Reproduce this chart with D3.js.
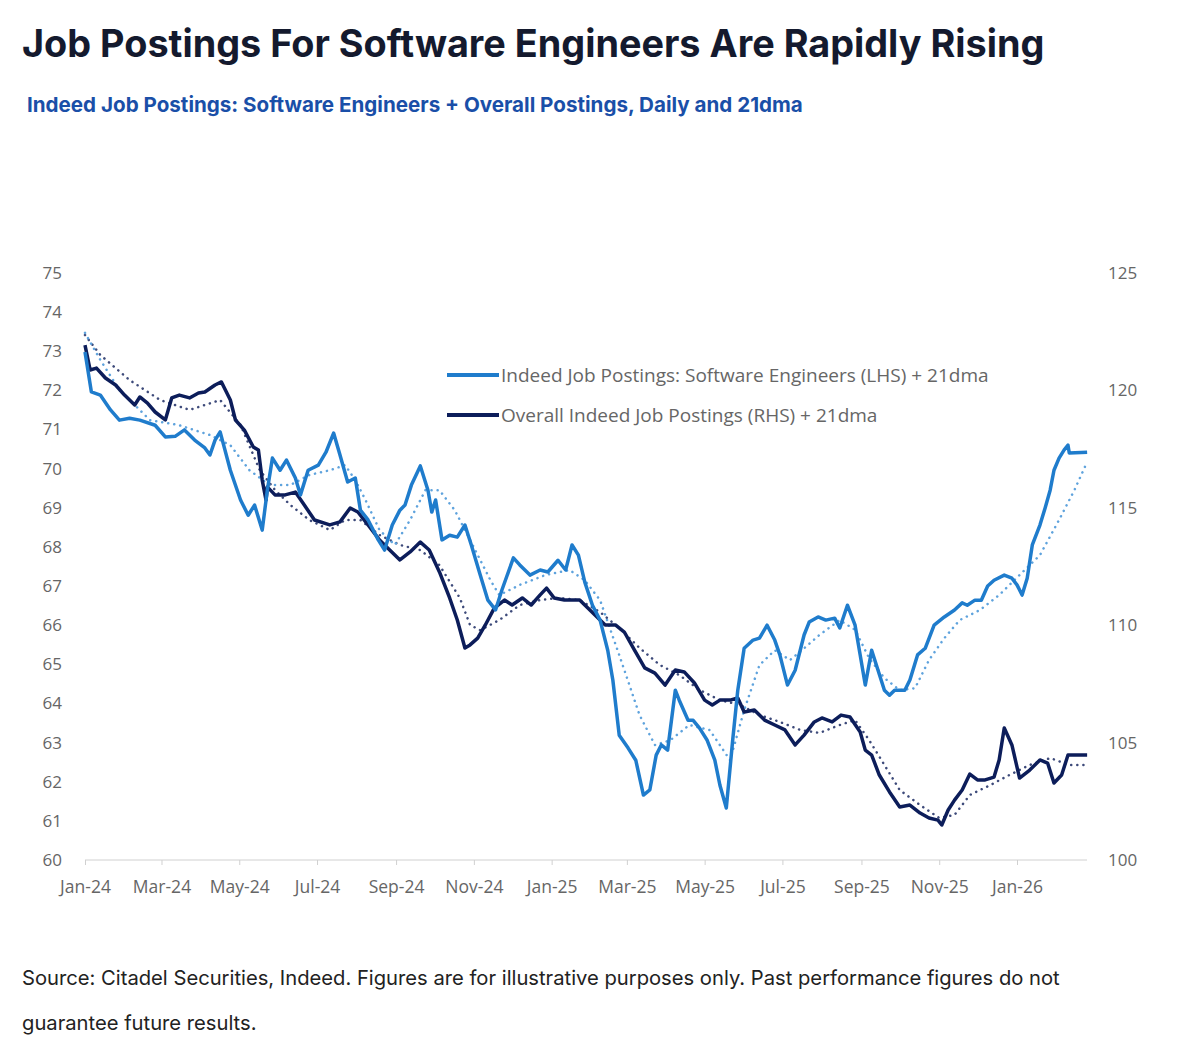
<!DOCTYPE html>
<html>
<head>
<meta charset="utf-8">
<script src="https://cdn.jsdelivr.net/npm/d3@7"></script>
<style>
  body { margin:0; background:#fff; font-family:Inter, "Noto Sans", sans-serif; }
</style>
</head>
<body>
<div id="plot"></div>
<script>
// days since 2024-01-01, value
var swDaily = [[0,72.98],[5,71.96],[12,71.88],[20,71.5],[27,71.24],[35,71.29],[43,71.24],[55,71.11],[63,70.81],[71,70.83],[78,70.99],[86,70.73],[94,70.53],[98,70.35],[102,70.73],[106,70.94],[114,69.96],[122,69.2],[128,68.81],[133,69.07],[139,68.43],[143,69.45],[147,70.27],[153,69.96],[158,70.22],[165,69.76],[169,69.33],[175,69.96],[183,70.09],[189,70.42],[195,70.91],[200,70.35],[206,69.66],[212,69.76],[216,68.94],[222,68.69],[230,68.18],[235,67.92],[241,68.56],[247,68.94],[251,69.07],[256,69.58],[263,70.07],[269,69.45],[272,68.89],[275,69.2],[280,68.18],[286,68.3],[292,68.25],[298,68.56],[303,68.05],[310,67.28],[316,66.64],[322,66.39],[327,66.9],[336,67.72],[341,67.54],[349,67.28],[357,67.41],[363,67.36],[371,67.66],[377,67.41],[382,68.05],[387,67.79],[392,67.1],[398,66.51],[404,66.13],[410,65.36],[414,64.6],[419,63.19],[426,62.86],[432,62.55],[438,61.66],[443,61.79],[448,62.68],[452,62.94],[457,62.81],[463,64.34],[466,64.09],[473,63.57],[477,63.57],[482,63.37],[488,63.06],[494,62.55],[498,61.91],[503,61.33],[508,63.06],[512,64.34],[517,65.41],[524,65.62],[529,65.67],[535,66.0],[541,65.62],[545,65.24],[551,64.47],[557,64.85],[564,65.75],[568,66.08],[575,66.21],[581,66.13],[588,66.18],[592,65.93],[598,66.51],[604,66.0],[608,65.24],[612,64.47],[617,65.36],[622,64.85],[627,64.34],[631,64.21],[635,64.34],[643,64.34],[647,64.6],[653,65.24],[659,65.41],[666,66.0],[674,66.21],[682,66.39],[688,66.57],[692,66.51],[698,66.64],[703,66.64],[708,67.0],[713,67.15],[721,67.28],[727,67.2],[731,67.03],[735,66.77],[739,67.2],[743,68.05],[749,68.56],[753,68.99],[757,69.45],[760,69.96],[764,70.27],[768,70.48],[771,70.6],[772,70.4],[786,70.42]];
var swMA = [[0,73.47],[12,72.78],[27,72.01],[51,71.24],[74,71.11],[98,70.86],[114,70.6],[129,69.96],[145,69.58],[161,69.58],[176,69.84],[192,69.96],[204,70.09],[212,69.71],[220,69.2],[231,68.43],[243,68.05],[255,68.69],[267,69.45],[278,69.45],[290,68.94],[302,68.18],[318,67.15],[325,66.77],[341,67.03],[361,67.28],[380,67.41],[392,67.15],[404,66.64],[419,65.24],[435,63.7],[447,62.94],[459,63.06],[474,63.45],[490,63.32],[506,62.55],[517,63.83],[529,64.98],[541,65.36],[553,65.11],[564,65.41],[576,65.75],[592,66.13],[604,65.88],[615,65.16],[627,64.65],[639,64.34],[651,64.39],[662,65.11],[674,65.67],[686,66.13],[702,66.39],[717,66.77],[733,67.28],[749,67.79],[764,68.69],[776,69.45],[786,70.17]];
var allDaily = [[0,121.93],[4,120.87],[9,120.95],[16,120.53],[24,120.23],[31,119.8],[39,119.38],[43,119.72],[49,119.46],[55,119.08],[63,118.74],[68,119.68],[74,119.8],[82,119.68],[89,119.89],[94,119.93],[102,120.23],[107,120.36],[114,119.59],[118,118.74],[125,118.31],[132,117.59],[136,117.46],[139,116.18],[142,115.33],[143,115.89],[149,115.55],[157,115.55],[165,115.67],[172,115.12],[180,114.48],[192,114.27],[200,114.4],[208,114.99],[214,114.82],[222,114.27],[231,113.63],[239,113.2],[247,112.78],[255,113.12],[263,113.54],[270,113.2],[278,112.27],[286,111.16],[292,110.22],[298,109.03],[302,109.16],[308,109.45],[314,110.01],[321,110.73],[329,111.07],[335,110.86],[343,111.16],[350,110.86],[357,111.29],[362,111.58],[368,111.16],[376,111.07],[388,111.07],[400,110.43],[408,110.01],[416,110.01],[423,109.71],[431,108.94],[439,108.18],[447,107.96],[455,107.45],[463,108.09],[470,108.01],[478,107.54],[486,106.81],[492,106.6],[498,106.81],[506,106.81],[512,106.9],[517,106.3],[525,106.39],[533,105.96],[541,105.75],[549,105.54],[557,104.9],[564,105.32],[572,105.88],[578,106.05],[586,105.88],[593,106.17],[600,106.09],[608,105.45],[612,104.68],[617,104.47],[623,103.62],[631,102.9],[639,102.26],[647,102.34],[655,102.0],[662,101.79],[669,101.7],[672,101.49],[677,102.13],[682,102.55],[688,102.98],[694,103.66],[700,103.41],[706,103.41],[713,103.53],[717,104.26],[721,105.62],[727,104.9],[733,103.49],[741,103.83],[749,104.26],[755,104.13],[760,103.28],[766,103.62],[771,104.47],[786,104.47]];
var allMA = [[0,122.36],[12,121.51],[35,120.44],[59,119.59],[82,119.17],[106,119.59],[122,118.53],[137,116.61],[149,115.76],[161,115.12],[176,114.48],[192,114.05],[204,114.48],[216,114.48],[231,113.84],[247,113.42],[263,113.2],[278,112.56],[294,111.16],[302,110.01],[310,109.79],[325,110.22],[341,110.86],[357,111.07],[372,111.16],[388,111.07],[404,110.56],[419,109.88],[435,109.03],[451,108.3],[466,107.88],[482,107.24],[498,106.81],[514,106.6],[529,106.18],[545,105.88],[561,105.54],[576,105.41],[592,105.75],[604,105.96],[615,105.11],[627,104.05],[639,102.98],[655,102.34],[670,101.79],[682,101.92],[694,102.77],[710,103.19],[725,103.62],[741,104.05],[757,104.34],[772,104.05],[786,104.05]];
var leftTicks = [60,61,62,63,64,65,66,67,68,69,70,71,72,73,74,75];
var rightTicks = [100,105,110,115,120,125];
var legendLabels = ['Indeed Job Postings: Software Engineers (LHS) + 21dma', 'Overall Indeed Job Postings (RHS) + 21dma'];

var light = '#1f7ccc', dark = '#0c1d5a';
var base = new Date(2024,0,1);
function day(n){ return d3.timeDay.offset(base, n); }

var svg = d3.select('#plot').append('svg').attr('width',1200).attr('height',1061);

svg.append('text').attr('x',22).attr('y',57).text('Job Postings For Software Engineers Are Rapidly Rising')
  .style('font-size','37.8px').style('font-weight','700').style('fill','#141a2e');
svg.append('text').attr('x',27).attr('y',112).text('Indeed Job Postings: Software Engineers + Overall Postings, Daily and 21dma')
  .style('font-size','20.6px').style('font-weight','700').style('fill','#1a4fa8');

var x = d3.scaleTime().domain([base, new Date(2026,0,1)]).range([85,1017]);
var yL = d3.scaleLinear().domain([60,75]).range([860,273]);
var yR = d3.scaleLinear().domain([100,125]).range([860,273]);

// axes
var xTicks = d3.timeMonth.every(2).range(base, new Date(2026,1,2));
var xAxis = svg.append('g').attr('transform','translate(0,860)')
  .call(d3.axisBottom(x).tickValues(xTicks).tickFormat(d3.timeFormat('%b-%y')).tickSize(5).tickSizeOuter(0));
xAxis.select('.domain').attr('d','M85,0H1087').attr('stroke','#d0d0d0');
xAxis.selectAll('.tick line').attr('stroke','#d0d0d0');
xAxis.selectAll('text').attr('dy','1.4em').style('font-size','17.5px').style('fill','#666').style('font-family','"Open Sans", sans-serif');

var la = svg.append('g').attr('transform','translate(65,0)')
  .call(d3.axisLeft(yL).tickValues(leftTicks).tickSize(0).tickFormat(d3.format('d')));
la.select('.domain').remove();
la.selectAll('text').attr('text-anchor','end').style('font-size','17px').style('fill','#666').style('font-family','"Open Sans", sans-serif');

var ra = svg.append('g').attr('transform','translate(1105,0)')
  .call(d3.axisRight(yR).tickValues(rightTicks).tickSize(0).tickFormat(d3.format('d')));
ra.select('.domain').remove();
ra.selectAll('text').style('font-size','17px').style('fill','#666').style('font-family','"Open Sans", sans-serif');

function line(ys){ return d3.line().x(function(d){return x(day(d[0]));}).y(function(d){return ys(d[1]);}); }

svg.append('path').datum(allMA).attr('d',line(yR)).attr('fill','none').attr('stroke','#3d4a7a')
  .attr('stroke-width',2.5).attr('stroke-dasharray','0.1 6').attr('stroke-linecap','round');
svg.append('path').datum(swMA).attr('d',line(yL)).attr('fill','none').attr('stroke','#5fa3dd')
  .attr('stroke-width',2.5).attr('stroke-dasharray','0.1 6').attr('stroke-linecap','round');
svg.append('path').datum(allDaily).attr('d',line(yR)).attr('fill','none').attr('stroke',dark).attr('stroke-width',3.5).attr('stroke-linejoin','round');
svg.append('path').datum(swDaily).attr('d',line(yL)).attr('fill','none').attr('stroke',light).attr('stroke-width',3.5).attr('stroke-linejoin','round');

// legend
var lg = svg.append('g').selectAll('g').data(legendLabels).enter().append('g')
  .attr('transform',function(d,i){return 'translate(447,'+(375+i*40)+')';});
lg.append('line').attr('x1',0).attr('x2',52).attr('stroke',function(d,i){return i?dark:light;}).attr('stroke-width',4);
lg.append('text').attr('x',54).attr('dy','0.35em').text(function(d){return d;})
  .style('font-size','19px').style('fill','#666').style('font-family','"Open Sans", sans-serif');

svg.append('text').attr('x',22).attr('y',985).text('Source: Citadel Securities, Indeed. Figures are for illustrative purposes only. Past performance figures do not')
  .style('font-size','20.2px').style('fill','#222');
svg.append('text').attr('x',22).attr('y',1030).text('guarantee future results.')
  .style('font-size','20.2px').style('fill','#222');
</script>
</body>
</html>
